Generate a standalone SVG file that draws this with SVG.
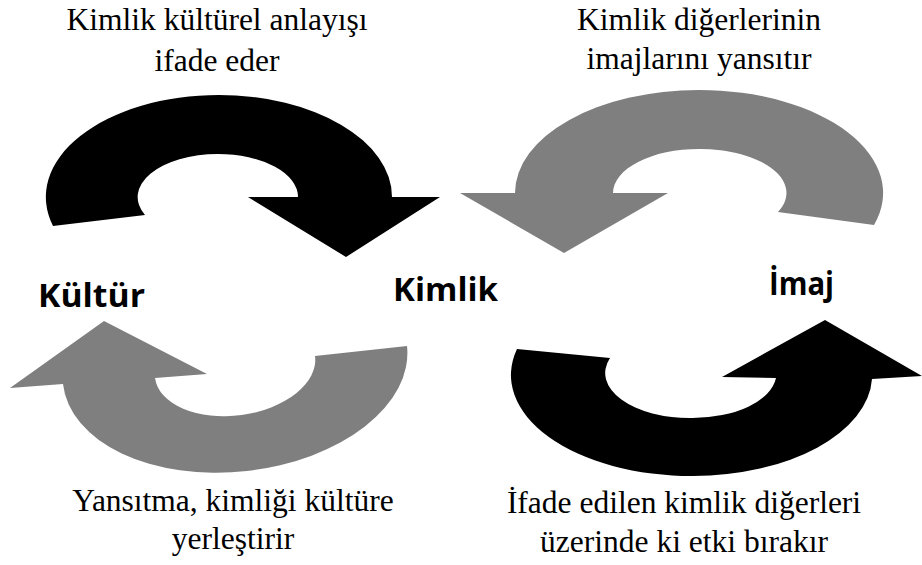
<svg xmlns="http://www.w3.org/2000/svg" width="922" height="565" viewBox="0 0 922 565">
<style>
.cap{font-family:"Liberation Serif","Times New Roman",serif;font-size:31.5px;fill:#000;text-anchor:middle}
.lbl{font-family:"Open Sans","Noto Sans",sans-serif;font-weight:bold;font-size:33px;fill:#000}
.blk{fill:#000}
.gry{fill:#7f7f7f}
</style>
<rect width="922" height="565" fill="#fff"/>
<g id="connectors">
<path id="arrow-kimlik-kultur-top" class="blk" d="M 53 226 A 173 102 0 0 1 219 95 A 173 102 0 0 1 392 197 L 440 197 L 346 257 L 248 197 L 298 197 A 80 43 0 0 0 218 154 A 80 43 0 0 0 145 215 Z"/>
<path id="arrow-imaj-kimlik-top" class="gry" d="M 874 225 A 184 103 0 0 0 699 90 A 184 103 0 0 0 515 193 L 460 193 L 564 253 L 668 193 L 613 193 A 86 44 0 0 1 699 149 A 86 44 0 0 1 778 212 Z"/>
<path id="arrow-kimlik-kultur-bottom" class="gry" d="M 407 346 A 172 106 -6.3 0 1 63 384 L 10 388 L 104 321 L 207 374 L 155 378 A 80 48 -7.8 0 0 315 356 Z"/>
<path id="arrow-kimlik-imaj-bottom" class="blk" d="M 517 349 A 180 101 0 0 0 693 476 A 180 101 0 0 0 872 379 L 922 376 L 825 320 L 722 377 L 776 378 A 84 45 0 0 1 692 418 A 84 45 0 0 1 610 358 Z"/>
</g>
<g id="node-kultur"><text class="lbl" x="38" y="307" textLength="107" lengthAdjust="spacingAndGlyphs">Kültür</text></g>
<g id="node-kimlik"><text class="lbl" x="393" y="301" textLength="105" lengthAdjust="spacingAndGlyphs">Kimlik</text></g>
<g id="node-imaj"><text class="lbl" x="769" y="295" textLength="65" lengthAdjust="spacingAndGlyphs">İmaj</text></g>
<g id="label-top-left"><text class="cap" x="217" y="30">Kimlik kültürel anlayışı</text><text class="cap" x="217" y="71">ifade eder</text></g>
<g id="label-top-right"><text class="cap" x="699" y="30">Kimlik diğerlerinin</text><text class="cap" x="699" y="69">imajlarını yansıtır</text></g>
<g id="label-bottom-left"><text class="cap" x="233" y="511">Yansıtma, kimliği kültüre</text><text class="cap" x="233" y="549">yerleştirir</text></g>
<g id="label-bottom-right"><text class="cap" x="684" y="513">İfade edilen kimlik diğerleri</text><text class="cap" x="684" y="552">üzerinde ki etki bırakır</text></g>
</svg>
